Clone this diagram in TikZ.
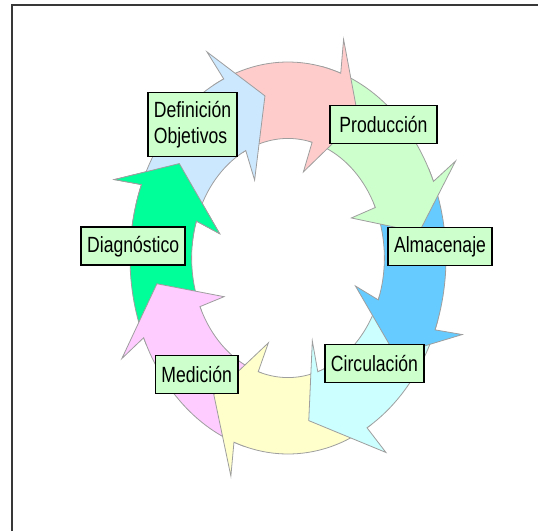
\documentclass[tikz,border=0pt]{standalone}
\usepackage{fontspec}
\usepackage{tikz}
\newfontfamily\tagfont{Liberation Sans}[FakeStretch=0.8]
\definecolor{cysky}{HTML}{CCE8FF}
\definecolor{cypink}{HTML}{FFCCCC}
\definecolor{cylight}{HTML}{CCFFCC}
\definecolor{cyblue}{HTML}{66CCFF}
\definecolor{cycyan}{HTML}{CCFFFF}
\definecolor{cyyellow}{HTML}{FFFFCC}
\definecolor{cyviolet}{HTML}{FFCCFF}
\definecolor{cygreen}{HTML}{00FF99}
\definecolor{tagfill}{HTML}{CCFFCC}
\tikzset{
  ringarrow/.style={draw=black!38, line width=0.8pt, line join=miter},
  tag/.style={draw=black, line width=1.5pt, fill=tagfill,
    font=\tagfont\fontsize{22}{26}\selectfont,
    inner xsep=6pt, inner ysep=3pt, minimum height=38pt},
  frameline/.style={draw=black!78, line width=1.8pt}
}
% one curved arrow of the ring: colour, tail angle, head angle, skew
\newcommand{\cyclearrow}[4]{%
  \pgfmathsetmacro\outbase{#3-#4/2}%
  \pgfmathsetmacro\inbase{#3+#4/2}%
  \pgfmathsetmacro\tipang{#3-15}%
  \draw[ringarrow, fill=#1] (#2:1) -- plot[domain=#2:\outbase, samples=30] ({\x}:1)
    -- ({\outbase+2}:1.17) -- (\tipang:0.84) -- ({\inbase+2}:0.45) -- (\inbase:0.61)
    -- plot[domain=\inbase:#2, samples=30] ({\x}:0.61) -- cycle;}

\begin{document}
\begin{tikzpicture}[x=1pt, y=-1pt]
    \useasboundingbox (0,0) rectangle (538,531);
    \draw[frameline] (12,531) |- (538,5);

    \begin{scope}[shift={(288,258)}, x=158pt, y=196pt]
        \foreach \clr/\ta/\ba/\sk in {cygreen/206/160/4, cyviolet/-106/-156/0,
            cyyellow/-58/-109/2, cycyan/-18.5/-66/-12, cyblue/27/-21/1,
            cylight/77.5/24/2, cypink/118/73/5, cysky/164/115/2}
            {\cyclearrow{\clr}{\ta}{\ba}{\sk}}
        % head of the green arrow lies over the tail of the first one
        \begin{scope}
            \clip (0,0) -- (174:1.5) -- (130:1.5) -- cycle;
            \cyclearrow{cygreen}{206}{160}{4}
        \end{scope}
    \end{scope}

    \node[tag, align=left, minimum height=64pt] (defi) at (192.5,124.5) {Definición\\Objetivos};
    \node[tag, minimum width=107pt] (prod) at (383.5,124.5) {Producción};
    \node[tag] (alma) at (440,246.5) {Almacenaje};
    \node[tag] (circ) at (374.5,363.7) {Circulación};
    \node[tag] (medi) at (196.7,374.7) {Medición};
    \node[tag] (diag) at (133.2,246.2) {Diagnóstico};
\end{tikzpicture}
\end{document}
